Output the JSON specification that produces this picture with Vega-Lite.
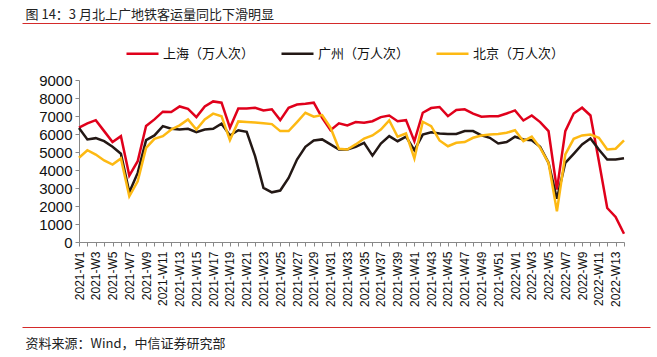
{
  "$schema": "https://vega.github.io/schema/vega-lite/v6.json",
  "width": 545,
  "height": 162,
  "autosize": "none",
  "padding": {"left": 79, "top": 80, "right": 33, "bottom": 115},
  "background": "white",
  "config": {"view": {"stroke": null}, "font": "Liberation Sans"},
  "resolve": {"scale": {"x": "independent"}, "axis": {"x": "independent"}},
  "layer": [
    {
      "data": {
        "values": [
          {"w": "2021-W1", "sh": 6350, "gz": 6330, "bj": 4680},
          {"w": "2021-W2", "sh": 6590, "gz": 5700, "bj": 5100},
          {"w": "2021-W3", "sh": 6770, "gz": 5770, "bj": 4860},
          {"w": "2021-W4", "sh": 6160, "gz": 5600, "bj": 4530},
          {"w": "2021-W5", "sh": 5550, "gz": 5290, "bj": 4300},
          {"w": "2021-W6", "sh": 5880, "gz": 4900, "bj": 4640},
          {"w": "2021-W7", "sh": 3690, "gz": 2760, "bj": 2540},
          {"w": "2021-W8", "sh": 4490, "gz": 3840, "bj": 3370},
          {"w": "2021-W9", "sh": 6440, "gz": 5660, "bj": 5230},
          {"w": "2021-W10", "sh": 6810, "gz": 5920, "bj": 5730},
          {"w": "2021-W11", "sh": 7240, "gz": 6440, "bj": 5880},
          {"w": "2021-W12", "sh": 7220, "gz": 6290, "bj": 6250},
          {"w": "2021-W13", "sh": 7530, "gz": 6250, "bj": 6480},
          {"w": "2021-W14", "sh": 7400, "gz": 6290, "bj": 6810},
          {"w": "2021-W15", "sh": 6940, "gz": 6100, "bj": 6250},
          {"w": "2021-W16", "sh": 7530, "gz": 6250, "bj": 6810},
          {"w": "2021-W17", "sh": 7810, "gz": 6290, "bj": 7130},
          {"w": "2021-W18", "sh": 7740, "gz": 6570, "bj": 6990},
          {"w": "2021-W19", "sh": 6350, "gz": 5920, "bj": 5660},
          {"w": "2021-W20", "sh": 7420, "gz": 6210, "bj": 6700},
          {"w": "2021-W21", "sh": 7420, "gz": 6120, "bj": 6670},
          {"w": "2021-W22", "sh": 7460, "gz": 4770, "bj": 6640},
          {"w": "2021-W23", "sh": 7310, "gz": 3010, "bj": 6600},
          {"w": "2021-W24", "sh": 7370, "gz": 2760, "bj": 6550},
          {"w": "2021-W25", "sh": 6770, "gz": 2860, "bj": 6160},
          {"w": "2021-W26", "sh": 7460, "gz": 3560, "bj": 6160},
          {"w": "2021-W27", "sh": 7640, "gz": 4580, "bj": 6660},
          {"w": "2021-W28", "sh": 7680, "gz": 5290, "bj": 7180},
          {"w": "2021-W29", "sh": 7740, "gz": 5640, "bj": 6960},
          {"w": "2021-W30", "sh": 6900, "gz": 5700, "bj": 7050},
          {"w": "2021-W31", "sh": 6210, "gz": 5420, "bj": 6350},
          {"w": "2021-W32", "sh": 6590, "gz": 5140, "bj": 5180},
          {"w": "2021-W33", "sh": 6480, "gz": 5140, "bj": 5140},
          {"w": "2021-W34", "sh": 6660, "gz": 5290, "bj": 5420},
          {"w": "2021-W35", "sh": 6620, "gz": 5510, "bj": 5750},
          {"w": "2021-W36", "sh": 6710, "gz": 4800, "bj": 5920},
          {"w": "2021-W37", "sh": 6940, "gz": 5470, "bj": 6250},
          {"w": "2021-W38", "sh": 7030, "gz": 5880, "bj": 6750},
          {"w": "2021-W39", "sh": 6710, "gz": 5600, "bj": 5850},
          {"w": "2021-W40", "sh": 6770, "gz": 5850, "bj": 6030},
          {"w": "2021-W41", "sh": 5600, "gz": 5100, "bj": 4640},
          {"w": "2021-W42", "sh": 7180, "gz": 5970, "bj": 6680},
          {"w": "2021-W43", "sh": 7440, "gz": 6100, "bj": 6440},
          {"w": "2021-W44", "sh": 7500, "gz": 6030, "bj": 5640},
          {"w": "2021-W45", "sh": 6990, "gz": 6000, "bj": 5320},
          {"w": "2021-W46", "sh": 7330, "gz": 6000, "bj": 5510},
          {"w": "2021-W47", "sh": 7370, "gz": 6160, "bj": 5550},
          {"w": "2021-W48", "sh": 7130, "gz": 6160, "bj": 5790},
          {"w": "2021-W49", "sh": 6960, "gz": 5920, "bj": 5920},
          {"w": "2021-W50", "sh": 6990, "gz": 5790, "bj": 5970},
          {"w": "2021-W51", "sh": 6990, "gz": 5470, "bj": 6000},
          {"w": "2021-W52", "sh": 7140, "gz": 5550, "bj": 6070},
          {"w": "2022-W1", "sh": 7310, "gz": 5850, "bj": 6210},
          {"w": "2022-W2", "sh": 6750, "gz": 5700, "bj": 5600},
          {"w": "2022-W3", "sh": 7030, "gz": 5650, "bj": 5850},
          {"w": "2022-W4", "sh": 6660, "gz": 5290, "bj": 5230},
          {"w": "2022-W5", "sh": 6160, "gz": 4400, "bj": 4400},
          {"w": "2022-W6", "sh": 2910, "gz": 2400, "bj": 1700},
          {"w": "2022-W7", "sh": 6160, "gz": 4400, "bj": 4860},
          {"w": "2022-W8", "sh": 7140, "gz": 4900, "bj": 5730},
          {"w": "2022-W9", "sh": 7460, "gz": 5420, "bj": 5920},
          {"w": "2022-W10", "sh": 7030, "gz": 5750, "bj": 5970},
          {"w": "2022-W11", "sh": 4500, "gz": 5140, "bj": 5790},
          {"w": "2022-W12", "sh": 1890, "gz": 4580, "bj": 5140},
          {"w": "2022-W13", "sh": 1390, "gz": 4580, "bj": 5180},
          {"w": "2022-W14", "sh": 460, "gz": 4650, "bj": 5640}
        ]
      },
      "transform": [{"fold": ["sh", "gz", "bj"], "as": ["city", "v"]}],
      "mark": {"type": "line", "strokeWidth": 2.5},
      "encoding": {
        "x": {
          "field": "w",
          "type": "nominal",
          "sort": null,
          "scale": {"type": "point", "padding": 0},
          "axis": {
            "orient": "bottom",
            "title": null,
            "labelAngle": -90,
            "labelFont": "Liberation Sans",
            "labelFontSize": 12,
            "labelColor": "#111",
            "labelOverlap": false,
            "labelExpr": "test(/[13579]$/, datum.label) ? datum.label : ''",
            "labelPadding": 5,
            "tickSize": 4,
            "tickColor": "#888",
            "domainColor": "#888",
            "grid": false
          }
        },
        "y": {
          "field": "v",
          "type": "quantitative",
          "scale": {"domain": [0, 9000], "nice": false},
          "axis": {
            "orient": "left",
            "title": null,
            "values": [0, 1000, 2000, 3000, 4000, 5000, 6000, 7000, 8000, 9000],
            "format": "d",
            "labelFont": "Liberation Sans",
            "labelFontSize": 15,
            "labelColor": "#111",
            "labelPadding": 3,
            "tickSize": 4,
            "tickColor": "#888",
            "domainColor": "#888",
            "grid": false
          }
        },
        "color": {
          "field": "city",
          "type": "nominal",
          "scale": {"domain": ["sh", "gz", "bj"], "range": ["#e0001b", "#231815", "#fdb913"]},
          "legend": {
            "title": null,
            "orient": "none",
            "direction": "horizontal",
            "legendX": 46,
            "legendY": -44,
            "padding": 0,
            "symbolType": "stroke",
            "symbolSize": 1024,
            "symbolStrokeWidth": 2.5,
            "labelFont": "Noto Sans CJK SC",
            "labelFontSize": 13,
            "labelColor": "#111",
            "labelOffset": 3,
            "columnPadding": 21,
            "labelExpr": "datum.label == 'sh' ? '上海（万人次）' : datum.label == 'gz' ? '广州（万人次）' : '北京（万人次）'"
          }
        }
      }
    },
    {
      "data": {"values": [{"b": 0}]},
      "mark": {"type": "rule", "opacity": 0},
      "encoding": {
        "x": {
          "field": "b",
          "type": "quantitative",
          "scale": {"domain": [0, 1], "range": [-57, 571]},
          "axis": {
            "orient": "bottom",
            "offset": 85,
            "domainColor": "#d42a2a",
            "domainWidth": 1,
            "ticks": false,
            "labels": false,
            "grid": false,
            "title": "资料来源：Wind，中信证券研究部",
            "titleFont": "Noto Sans CJK SC",
            "titleFontSize": 13,
            "titleFontWeight": "normal",
            "titleColor": "#222",
            "titleAlign": "left",
            "titleAnchor": "start",
            "titleBaseline": "alphabetic",
            "titleX": -54,
            "titleY": 20
          }
        }
      }
    },
    {
      "data": {"values": [{"t": 0}]},
      "mark": {"type": "rule", "opacity": 0},
      "encoding": {
        "x": {
          "field": "t",
          "type": "quantitative",
          "scale": {"domain": [0, 1], "range": [-57, 571]},
          "axis": {
            "orient": "bottom",
            "offset": -219,
            "domainColor": "#d42a2a",
            "domainWidth": 1,
            "ticks": false,
            "labels": false,
            "grid": false,
            "title": "图 14：3 月北上广地铁客运量同比下滑明显",
            "titleFont": "Noto Sans CJK SC",
            "titleFontSize": 13,
            "titleFontWeight": "normal",
            "titleColor": "#222",
            "titleAlign": "left",
            "titleAnchor": "start",
            "titleBaseline": "alphabetic",
            "titleX": -54,
            "titleY": -5
          }
        }
      }
    }
  ]
}
